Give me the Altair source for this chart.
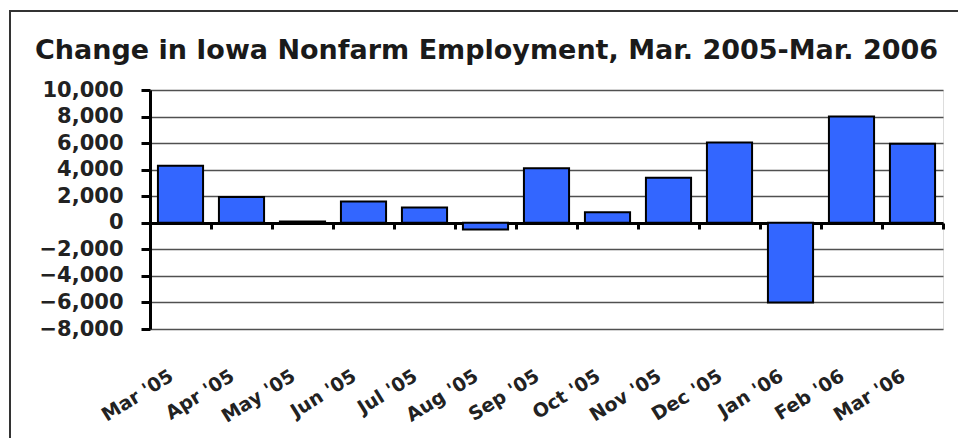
import altair as alt
import pandas as pd

months = ["Mar '05", "Apr '05", "May '05", "Jun '05", "Jul '05", "Aug '05", "Sep '05",
          "Oct '05", "Nov '05", "Dec '05", "Jan '06", "Feb '06", "Mar '06"]
changes = [4300, 1950, 100, 1600, 1150, -500, 4100, 800, 3400, 6050, -6000, 8000, 5950]
y_ticks = [-8000, -6000, -4000, -2000, 0, 2000, 4000, 6000, 8000, 10000]

df = pd.DataFrame({"month": months, "change": changes})

FONT = "DejaVu Sans"
W, H = 793, 239

bars = alt.Chart(df).mark_bar(
    color="#3366ff", stroke="#000000", strokeWidth=2, width={"band": 0.74}
).encode(
    x=alt.X("month:N", sort=months, title=None,
            scale=alt.Scale(paddingInner=0, paddingOuter=0),
            axis=alt.Axis(
                orient="bottom", offset=-106, bandPosition=1,
                domain=True, domainColor="#000000", domainWidth=3,
                ticks=True, tickColor="#000000", tickWidth=3, tickSize=6,
                labelAngle=-32, labelAlign="right", labelBaseline="middle",
                labelPadding=145, labelOffset=-9,
                labelFont=FONT, labelFontWeight="bold", labelFontSize=19,
                labelColor="#222222", grid=False)),
    y=alt.Y("change:Q", title=None,
            scale=alt.Scale(domain=[-8000, 10000], nice=False, zero=False),
            axis=alt.Axis(values=y_ticks, format=",d", grid=True,
                          gridColor="#505050", gridWidth=1.5,
                          domain=True, domainColor="#000000", domainWidth=3,
                          tickColor="#000000", tickWidth=3, tickSize=9,
                          labelPadding=18, labelFont=FONT, labelFontWeight="bold",
                          labelFontSize=21, labelColor="#222222")),
)

frame = alt.Chart(pd.DataFrame({"k": [0]})).mark_rect(
    fill=None, stroke="#333333", strokeWidth=2
).encode(
    x=alt.value(-140), x2=alt.value(814), y=alt.value(-79), y2=alt.value(370)
)

chart = alt.layer(bars, frame).properties(
    width=W, height=H,
    padding={"left": 142, "top": 82, "right": 15, "bottom": 109},
    autosize=alt.AutoSizeParams(type="none"),
    title=alt.TitleParams(
        "Change in Iowa Nonfarm Employment, Mar. 2005-Mar. 2006",
        font=FONT, fontSize=27, fontWeight="bold", color="#1a1a1a",
        anchor="middle", dx=-60, offset=0, dy=55, baseline="top", frame="group"),
).configure_view(
    fill="#c0c0c0", stroke="#000000", strokeWidth=2
).configure(background="#ffffff")

chart.save("out.html", embed_options={"renderer": "svg", "actions": False})
